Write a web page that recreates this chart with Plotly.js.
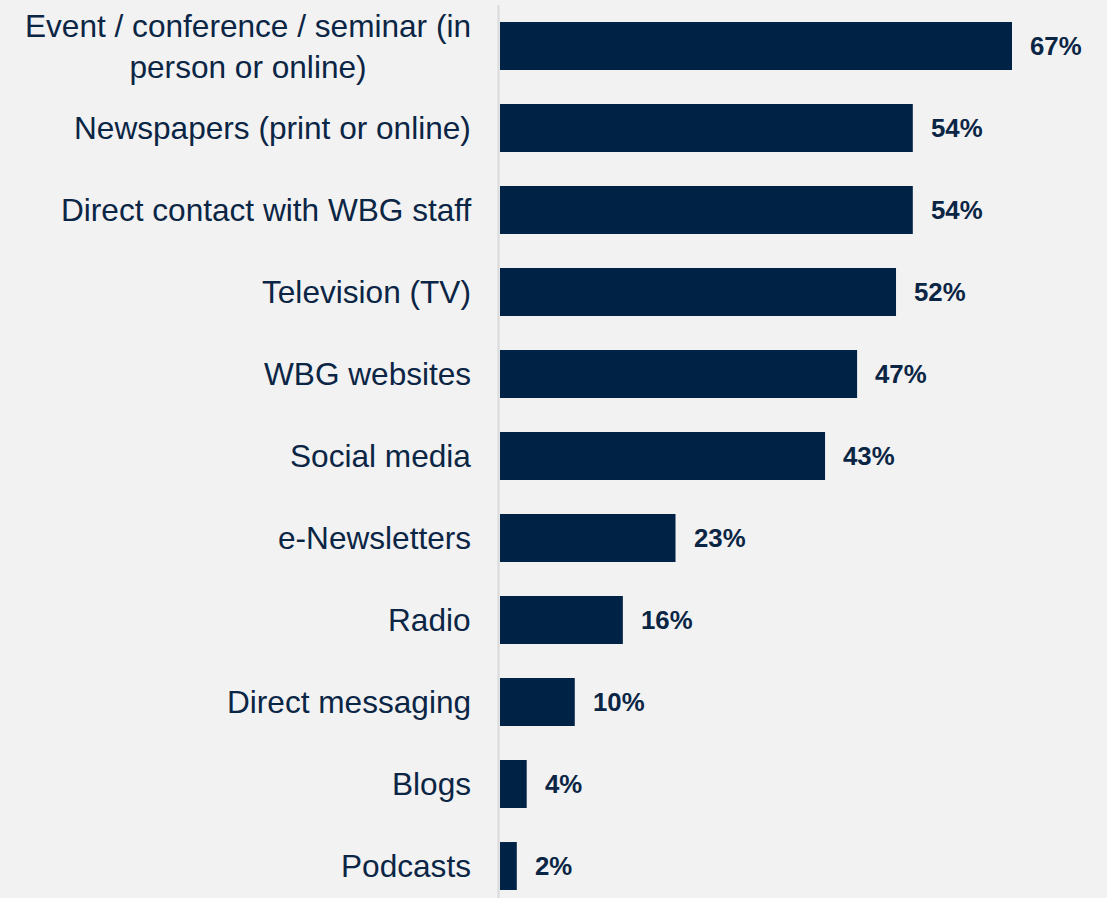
<!DOCTYPE html>
<html>
<head>
<meta charset="utf-8">
<script src="https://cdn.plot.ly/plotly-3.0.1.min.js"></script>
<style>html,body{margin:0;padding:0;background:#f2f2f2;}#chart{width:1107px;height:898px;}</style>
</head>
<body>
<div id="chart"></div>
<script>
// Data
const categories = [
  "Event / conference / seminar (in<br>person or online)",
  "Newspapers (print or online)",
  "Direct contact with WBG staff",
  "Television (TV)",
  "WBG websites",
  "Social media",
  "e-Newsletters",
  "Radio",
  "Direct messaging",
  "Blogs",
  "Podcasts"
];
const values = [67.1, 54.1, 54.1, 51.9, 46.8, 42.6, 23.0, 16.1, 9.8, 3.5, 2.2];
const valueLabels = ["67%", "54%", "54%", "52%", "47%", "43%", "23%", "16%", "10%", "4%", "2%"];

const navy = "#002245";
const textColor = "#0b2545";

const trace = {
  type: "bar",
  orientation: "h",
  y: categories,
  x: values,
  width: 0.585,
  marker: { color: navy },
  hoverinfo: "skip"
};

const annotations = [];
categories.forEach((c, i) => {
  annotations.push({
    xref: "paper", yref: "y", x: 0, y: c,
    xanchor: "right", yanchor: "middle", xshift: -27,
    text: c, showarrow: false, align: "center",
    font: { family: "Liberation Sans, Arial, sans-serif", size: 31.6, color: textColor }
  });
  annotations.push({
    xref: "x", yref: "y", x: values[i], y: c,
    xanchor: "left", yanchor: "middle", xshift: 16,
    text: "<b>" + valueLabels[i] + "</b>", showarrow: false,
    font: { family: "Liberation Sans, Arial, sans-serif", size: 25.8, color: textColor }
  });
});

const layout = {
  width: 1107, height: 898,
  margin: { l: 500, r: 0, t: 5, b: 0, pad: 0 },
  paper_bgcolor: "#f2f2f2",
  plot_bgcolor: "#f2f2f2",
  showlegend: false,
  bargap: 0.4,
  xaxis: { range: [0, 79.55], showgrid: false, zeroline: false, showline: false, showticklabels: false, ticks: "", fixedrange: true },
  yaxis: { type: "category", categoryorder: "array", categoryarray: categories, range: [10.39, -0.5], showgrid: false, zeroline: false, showline: false, showticklabels: false, ticks: "", fixedrange: true },
  shapes: [{
    type: "line", xref: "paper", yref: "paper", xsizemode: "pixel", xanchor: 0,
    x0: -1.5, x1: -1.5, y0: 0, y1: 1,
    line: { color: "#d9d9d9", width: 2 }
  }],
  annotations: annotations
};

Plotly.newPlot("chart", [trace], layout, { displayModeBar: false, staticPlot: true });
</script>
</body>
</html>
